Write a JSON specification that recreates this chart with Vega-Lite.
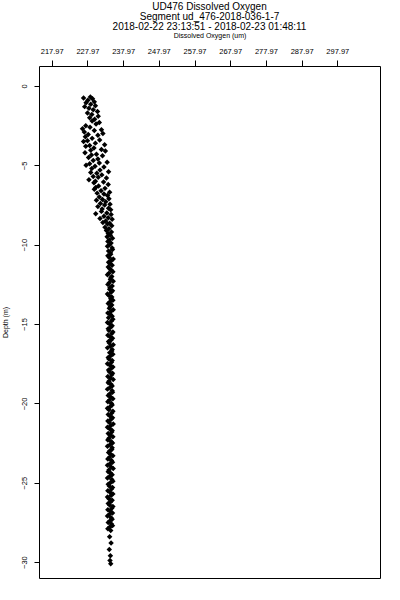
{
"$schema": "https://vega.github.io/schema/vega-lite/v6.json",
"width": 341, "height": 512,
"autosize": "none",
"padding": {"left": 39, "top": 66, "right": 20, "bottom": 22},
"background": "white",
"title": {"text": ["UD476 Dissolved Oxygen", "Segment ud_476-2018-036-1-7", "2018-02-22 23:13:51 - 2018-02-23 01:48:11"], "font": "Liberation Sans", "fontSize": 10, "fontWeight": "normal", "color": "black", "anchor": "middle", "lineHeight": 10, "offset": -1},
"view": {"stroke": "black", "strokeWidth": 1},
"config": {"axis": {"grid": false, "labelFont": "Liberation Sans", "titleFont": "Liberation Sans", "labelColor": "black", "titleColor": "black", "tickColor": "black", "domain": false, "titleFontWeight": "normal"}},
"data": {"values": [
{"depth":-0.7,"oxygen":228.8},{"depth":-0.75,"oxygen":226.9},{"depth":-0.8,"oxygen":229.4},{"depth":-0.9,"oxygen":228.1},{"depth":-1.0,"oxygen":229.9},{"depth":-1.05,"oxygen":227.6},{"depth":-1.15,"oxygen":228.9},{"depth":-1.25,"oxygen":230.2},{"depth":-1.3,"oxygen":227.2},{"depth":-1.4,"oxygen":228.4},{"depth":-1.5,"oxygen":229.6},{"depth":-1.6,"oxygen":230.8},{"depth":-1.7,"oxygen":228.0},{"depth":-1.8,"oxygen":229.2},{"depth":-1.9,"oxygen":231.0},{"depth":-2.0,"oxygen":228.6},{"depth":-2.1,"oxygen":230.0},{"depth":-2.2,"oxygen":229.3},{"depth":-2.3,"oxygen":231.3},{"depth":-2.4,"oxygen":230.4},{"depth":-2.5,"oxygen":227.5},{"depth":-2.6,"oxygen":228.7},{"depth":-2.7,"oxygen":226.6},{"depth":-2.75,"oxygen":231.9},{"depth":-2.8,"oxygen":229.9},{"depth":-2.9,"oxygen":227.1},{"depth":-3.0,"oxygen":232.3},{"depth":-3.05,"oxygen":228.2},{"depth":-3.1,"oxygen":230.9},{"depth":-3.2,"oxygen":227.4},{"depth":-3.3,"oxygen":229.3},{"depth":-3.4,"oxygen":231.4},{"depth":-3.45,"oxygen":228.0},{"depth":-3.5,"oxygen":226.9},{"depth":-3.6,"oxygen":230.2},{"depth":-3.7,"oxygen":232.8},{"depth":-3.75,"oxygen":228.6},{"depth":-3.8,"oxygen":227.5},{"depth":-3.9,"oxygen":229.8},{"depth":-4.0,"oxygen":231.9},{"depth":-4.05,"oxygen":228.9},{"depth":-4.1,"oxygen":233.0},{"depth":-4.2,"oxygen":227.3},{"depth":-4.3,"oxygen":230.5},{"depth":-4.35,"oxygen":229.1},{"depth":-4.4,"oxygen":232.2},{"depth":-4.5,"oxygen":228.3},{"depth":-4.6,"oxygen":230.9},{"depth":-4.7,"oxygen":229.6},{"depth":-4.8,"oxygen":233.5},{"depth":-4.85,"oxygen":231.3},{"depth":-4.9,"oxygen":228.6},{"depth":-5.0,"oxygen":227.6},{"depth":-5.05,"oxygen":230.1},{"depth":-5.1,"oxygen":232.6},{"depth":-5.2,"oxygen":229.2},{"depth":-5.3,"oxygen":231.5},{"depth":-5.4,"oxygen":233.9},{"depth":-5.45,"oxygen":228.9},{"depth":-5.5,"oxygen":230.6},{"depth":-5.6,"oxygen":232.0},{"depth":-5.7,"oxygen":229.6},{"depth":-5.75,"oxygen":231.0},{"depth":-5.8,"oxygen":233.3},{"depth":-5.9,"oxygen":228.4},{"depth":-6.0,"oxygen":230.2},{"depth":-6.05,"oxygen":232.5},{"depth":-6.1,"oxygen":229.8},{"depth":-6.2,"oxygen":233.8},{"depth":-6.3,"oxygen":231.1},{"depth":-6.4,"oxygen":230.3},{"depth":-6.45,"oxygen":232.9},{"depth":-6.5,"oxygen":229.9},{"depth":-6.6,"oxygen":231.8},{"depth":-6.7,"oxygen":234.2},{"depth":-6.75,"oxygen":230.7},{"depth":-6.8,"oxygen":232.6},{"depth":-6.9,"oxygen":233.6},{"depth":-7.0,"oxygen":231.3},{"depth":-7.1,"oxygen":234.0},{"depth":-7.15,"oxygen":232.2},{"depth":-7.2,"oxygen":230.5},{"depth":-7.3,"oxygen":233.1},{"depth":-7.4,"oxygen":231.6},{"depth":-7.45,"oxygen":234.3},{"depth":-7.5,"oxygen":232.8},{"depth":-7.6,"oxygen":230.9},{"depth":-7.7,"oxygen":233.9},{"depth":-7.75,"oxygen":232.1},{"depth":-7.8,"oxygen":234.5},{"depth":-7.9,"oxygen":231.9},{"depth":-8.0,"oxygen":233.4},{"depth":-8.05,"oxygen":230.3},{"depth":-8.1,"oxygen":234.6},{"depth":-8.2,"oxygen":232.6},{"depth":-8.3,"oxygen":233.8},{"depth":-8.35,"oxygen":231.5},{"depth":-8.4,"oxygen":234.9},{"depth":-8.5,"oxygen":233.1},{"depth":-8.6,"oxygen":232.3},{"depth":-8.65,"oxygen":234.2},{"depth":-8.7,"oxygen":233.6},{"depth":-8.8,"oxygen":234.8},{"depth":-8.9,"oxygen":232.9},{"depth":-9.0,"oxygen":234.0},{"depth":-9.1,"oxygen":233.3},{"depth":-9.2,"oxygen":234.7},{"depth":-9.3,"oxygen":233.8},{"depth":-9.4,"oxygen":234.4},{"depth":-9.5,"oxygen":233.5},{"depth":-9.6,"oxygen":235.0},{"depth":-9.7,"oxygen":234.1},{"depth":-9.8,"oxygen":233.7},{"depth":-9.9,"oxygen":234.6},
{"depth":-10.0,"oxygen":234.2},{"depth":-10.2,"oxygen":234.9},{"depth":-10.4,"oxygen":233.9},{"depth":-10.6,"oxygen":234.5},{"depth":-10.8,"oxygen":234.1},{"depth":-11.0,"oxygen":234.7},{"depth":-11.2,"oxygen":234.3},{"depth":-11.4,"oxygen":233.8},{"depth":-11.6,"oxygen":234.6},{"depth":-11.8,"oxygen":234.0},{"depth":-12.0,"oxygen":234.8},{"depth":-12.2,"oxygen":234.4},{"depth":-12.4,"oxygen":234.1},{"depth":-12.6,"oxygen":234.9},{"depth":-12.8,"oxygen":234.2},{"depth":-13.0,"oxygen":234.6},{"depth":-13.2,"oxygen":234.0},{"depth":-13.4,"oxygen":234.5},{"depth":-13.6,"oxygen":234.3},{"depth":-13.8,"oxygen":234.8},{"depth":-14.0,"oxygen":234.1},{"depth":-14.2,"oxygen":234.6},{"depth":-14.4,"oxygen":234.4},{"depth":-14.6,"oxygen":233.9},{"depth":-14.8,"oxygen":234.7},{"depth":-15.0,"oxygen":234.2},{"depth":-15.2,"oxygen":234.5},{"depth":-15.4,"oxygen":234.0},{"depth":-15.6,"oxygen":234.8},{"depth":-15.8,"oxygen":234.3},{"depth":-16.0,"oxygen":234.6},{"depth":-16.2,"oxygen":234.1},{"depth":-16.4,"oxygen":234.4},{"depth":-16.6,"oxygen":234.9},{"depth":-16.8,"oxygen":234.2},{"depth":-17.0,"oxygen":234.5},{"depth":-17.2,"oxygen":234.0},{"depth":-17.4,"oxygen":234.7},{"depth":-17.6,"oxygen":234.3},{"depth":-17.8,"oxygen":234.6},{"depth":-18.0,"oxygen":234.1},{"depth":-18.2,"oxygen":234.8},{"depth":-18.4,"oxygen":234.4},{"depth":-18.6,"oxygen":234.0},{"depth":-18.8,"oxygen":234.6},{"depth":-19.0,"oxygen":234.3},{"depth":-19.2,"oxygen":234.9},{"depth":-19.4,"oxygen":234.2},{"depth":-19.6,"oxygen":234.5},{"depth":-19.8,"oxygen":234.1},{"depth":-20.0,"oxygen":234.7},{"depth":-20.2,"oxygen":234.4},{"depth":-20.4,"oxygen":234.0},{"depth":-20.6,"oxygen":234.8},{"depth":-20.8,"oxygen":234.3},{"depth":-21.0,"oxygen":234.6},{"depth":-21.2,"oxygen":234.1},{"depth":-21.4,"oxygen":234.5},{"depth":-21.6,"oxygen":234.2},{"depth":-21.8,"oxygen":234.8},{"depth":-22.0,"oxygen":234.4},{"depth":-22.2,"oxygen":234.0},{"depth":-22.4,"oxygen":234.6},{"depth":-22.6,"oxygen":234.3},{"depth":-22.8,"oxygen":234.9},{"depth":-23.0,"oxygen":234.2},{"depth":-23.2,"oxygen":234.5},{"depth":-23.4,"oxygen":234.1},{"depth":-23.6,"oxygen":234.7},{"depth":-23.8,"oxygen":234.3},{"depth":-24.0,"oxygen":234.6},{"depth":-24.2,"oxygen":234.0},{"depth":-24.4,"oxygen":234.5},{"depth":-24.6,"oxygen":234.2},{"depth":-24.8,"oxygen":234.8},{"depth":-25.0,"oxygen":234.4},{"depth":-25.2,"oxygen":234.1},{"depth":-25.4,"oxygen":234.7},{"depth":-25.6,"oxygen":234.3},{"depth":-25.8,"oxygen":234.6},{"depth":-26.0,"oxygen":234.0},{"depth":-26.2,"oxygen":234.5},{"depth":-26.4,"oxygen":234.2},{"depth":-26.6,"oxygen":234.8},{"depth":-26.8,"oxygen":234.4},{"depth":-27.0,"oxygen":234.1},{"depth":-27.2,"oxygen":234.6},{"depth":-27.4,"oxygen":234.3},{"depth":-27.6,"oxygen":234.7},{"depth":-27.8,"oxygen":234.2},{"depth":-28.0,"oxygen":234.5},
{"depth":-10.1,"oxygen":233.6},{"depth":-10.3,"oxygen":235.0},{"depth":-10.5,"oxygen":234.4},{"depth":-10.7,"oxygen":233.7},{"depth":-10.9,"oxygen":235.2},{"depth":-11.1,"oxygen":233.9},{"depth":-11.3,"oxygen":234.9},{"depth":-11.5,"oxygen":234.2},{"depth":-11.7,"oxygen":235.1},{"depth":-11.9,"oxygen":233.6},{"depth":-12.1,"oxygen":234.5},{"depth":-12.3,"oxygen":235.2},{"depth":-12.5,"oxygen":233.7},{"depth":-12.7,"oxygen":234.3},{"depth":-12.9,"oxygen":235.0},{"depth":-13.1,"oxygen":233.6},{"depth":-13.3,"oxygen":234.8},{"depth":-13.5,"oxygen":235.1},{"depth":-13.7,"oxygen":233.8},{"depth":-13.9,"oxygen":234.4},{"depth":-14.1,"oxygen":235.2},{"depth":-14.3,"oxygen":233.7},{"depth":-14.5,"oxygen":234.9},{"depth":-14.7,"oxygen":235.1},{"depth":-14.9,"oxygen":233.6},{"depth":-15.1,"oxygen":234.9},{"depth":-15.3,"oxygen":233.8},{"depth":-15.5,"oxygen":235.1},{"depth":-15.7,"oxygen":233.7},{"depth":-15.9,"oxygen":235.0},{"depth":-16.1,"oxygen":233.9},{"depth":-16.3,"oxygen":235.2},{"depth":-16.5,"oxygen":233.6},{"depth":-16.7,"oxygen":234.8},{"depth":-16.9,"oxygen":235.1},{"depth":-17.1,"oxygen":233.8},{"depth":-17.3,"oxygen":234.9},{"depth":-17.5,"oxygen":233.6},{"depth":-17.7,"oxygen":235.1},{"depth":-17.9,"oxygen":233.9},{"depth":-18.1,"oxygen":235.0},{"depth":-18.3,"oxygen":233.7},{"depth":-18.5,"oxygen":235.2},{"depth":-18.7,"oxygen":233.8},{"depth":-18.9,"oxygen":234.9},{"depth":-19.1,"oxygen":233.6},{"depth":-19.3,"oxygen":235.0},{"depth":-19.5,"oxygen":233.8},{"depth":-19.7,"oxygen":235.1},{"depth":-19.9,"oxygen":233.7},{"depth":-20.1,"oxygen":234.9},{"depth":-20.3,"oxygen":233.6},{"depth":-20.5,"oxygen":235.1},{"depth":-20.7,"oxygen":233.8},{"depth":-20.9,"oxygen":235.0},{"depth":-21.1,"oxygen":233.7},{"depth":-21.3,"oxygen":235.2},{"depth":-21.5,"oxygen":233.6},{"depth":-21.7,"oxygen":234.9},{"depth":-21.9,"oxygen":233.8},{"depth":-22.1,"oxygen":235.1},{"depth":-22.3,"oxygen":233.7},{"depth":-22.5,"oxygen":235.0},{"depth":-22.7,"oxygen":233.6},{"depth":-22.9,"oxygen":234.8},{"depth":-23.1,"oxygen":233.9},{"depth":-23.3,"oxygen":235.1},{"depth":-23.5,"oxygen":233.7},{"depth":-23.7,"oxygen":235.0},{"depth":-23.9,"oxygen":233.6},{"depth":-24.1,"oxygen":235.2},{"depth":-24.3,"oxygen":233.8},{"depth":-24.5,"oxygen":234.9},{"depth":-24.7,"oxygen":233.6},{"depth":-24.9,"oxygen":235.1},{"depth":-25.1,"oxygen":233.8},{"depth":-25.3,"oxygen":235.0},{"depth":-25.5,"oxygen":233.7},{"depth":-25.7,"oxygen":235.1},{"depth":-25.9,"oxygen":233.6},{"depth":-26.1,"oxygen":234.9},{"depth":-26.3,"oxygen":233.8},{"depth":-26.5,"oxygen":235.1},{"depth":-26.7,"oxygen":233.7},{"depth":-26.9,"oxygen":235.0},{"depth":-27.1,"oxygen":233.6},{"depth":-27.3,"oxygen":234.9},{"depth":-27.5,"oxygen":233.8},{"depth":-27.7,"oxygen":235.0},{"depth":-27.9,"oxygen":233.7},
{"depth":-28.4,"oxygen":234.2},{"depth":-28.8,"oxygen":234.6},{"depth":-29.2,"oxygen":234.1},{"depth":-29.6,"oxygen":234.4},{"depth":-29.9,"oxygen":234.3},{"depth":-30.1,"oxygen":234.5}
]},
"mark": {"type": "point", "shape": "diamond", "filled": true, "color": "black", "opacity": 1, "size": 30},
"encoding": {
"x": {"field": "oxygen", "type": "quantitative", "scale": {"domain": [214.41, 309.93], "nice": false, "zero": false},
 "axis": {"orient": "top", "values": [217.97, 227.97, 237.97, 247.97, 257.97, 267.97, 277.97, 287.97, 297.97], "format": ".2f", "title": "Dissolved Oxygen (um)", "titleFontSize": 7, "titlePadding": 9, "labelFontSize": 7.5, "labelPadding": 5, "tickSize": 6, "labelFlush": false, "labelOverlap": false}},
"y": {"field": "depth", "type": "quantitative", "scale": {"domain": [-31.0, 1.26], "nice": false, "zero": false},
 "axis": {"orient": "left", "values": [0, -5, -10, -15, -20, -25, -30], "title": "Depth (m)", "titleFontSize": 7, "titlePadding": 12, "labelFontSize": 7.5, "labelAngle": -90, "labelAlign": "center", "labelBaseline": "bottom", "labelPadding": 6, "tickSize": 5}}
}
}
